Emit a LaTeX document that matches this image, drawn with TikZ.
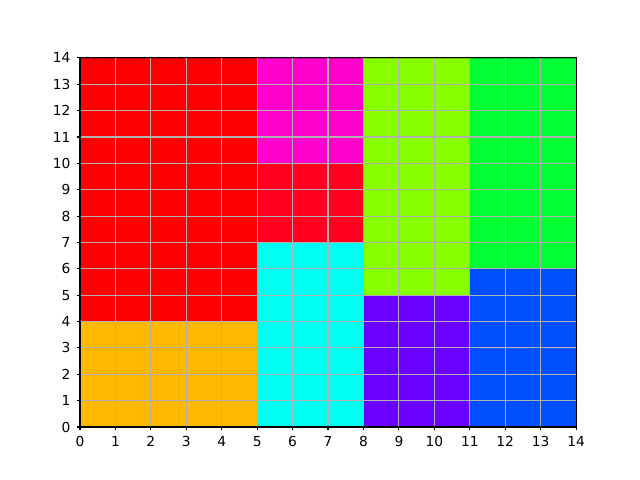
\documentclass[tikz,border=0pt]{standalone}
\usepackage{fontspec}
\setmainfont{DejaVu Sans}
\definecolor{cRed}{HTML}{FF0000}
\definecolor{cOrange}{HTML}{FFB700}
\definecolor{cMagenta}{HTML}{FF00CC}
\definecolor{cRedB}{HTML}{FF001E}
\definecolor{cCyan}{HTML}{00FFF0}
\definecolor{cLime}{HTML}{88FF00}
\definecolor{cPurple}{HTML}{6A00FF}
\definecolor{cGreen}{HTML}{00FF33}
\definecolor{cBlue}{HTML}{0050FF}
\definecolor{gridgray}{HTML}{B0B0B0}
\tikzset{
  cell/.style={fill=#1, draw=#1!75!black, line width=0.5pt},
  gridline/.style={draw=gridgray, line width=0.8pt},
  spine/.style={draw=black, line width=0.8pt, line cap=rect},
  tickmark/.style={draw=black, line width=0.8pt},
  ticklabel/.style={font=\fontsize{9.8}{11}\selectfont, inner sep=0pt},
}
\begin{document}
\begin{tikzpicture}[x=0.025cm,y=0.025cm]
\useasboundingbox (0,0) rectangle (640,480);
\begin{scope}[shift={(80,53)}, x=0.8857cm, y=0.65893cm]
  \draw[cell=cRed] (0,4) rectangle (5,14);
  \draw[cell=cOrange] (0,0) rectangle (5,4);
  \draw[cell=cMagenta] (5,10) rectangle (8,14);
  \draw[cell=cRedB] (5,7) rectangle (8,10);
  \draw[cell=cCyan] (5,0) rectangle (8,7);
  \draw[cell=cLime] (8,5) rectangle (11,14);
  \draw[cell=cPurple] (8,0) rectangle (11,5);
  \draw[cell=cGreen] (11,6) rectangle (14,14);
  \draw[cell=cBlue] (11,0) rectangle (14,6);
  \foreach \i in {1,...,13} {
    \draw[gridline] (\i,0) -- (\i,14);
    \draw[gridline] (0,\i) -- (14,\i);
  }
  \draw[spine] (0,0) rectangle (14,14);
  \foreach \i in {0,...,14} {
    \coordinate (xt\i) at (\i,0);
    \coordinate (yt\i) at (0,\i);
    \draw[tickmark] (xt\i) -- ++(0,-0.13);
    \draw[tickmark] (yt\i) -- ++(-0.0975,0);
    \node[ticklabel, anchor=north] (xl\i) at ([yshift=-0.23cm]xt\i) {\i};
    \node[ticklabel, anchor=east] (yl\i) at ([xshift=-0.23cm]yt\i) {\i};
  }
\end{scope}
\end{tikzpicture}
\end{document}
